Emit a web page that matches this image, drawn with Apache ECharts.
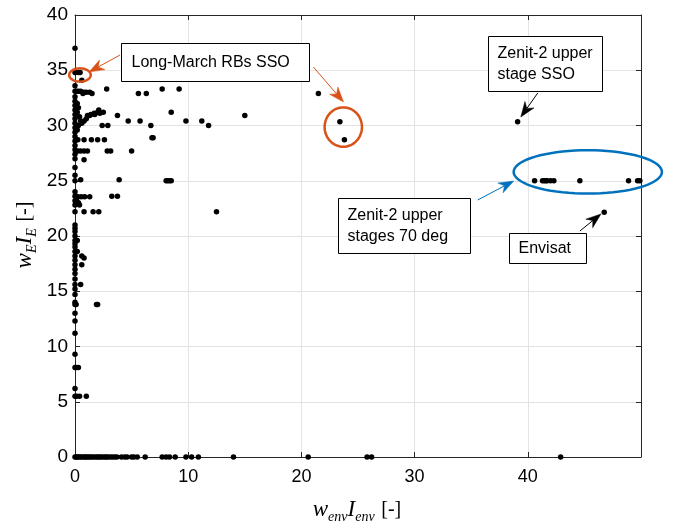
<!DOCTYPE html>
<html><head><meta charset="utf-8">
<script src="https://cdn.jsdelivr.net/npm/echarts@6/dist/echarts.min.js"></script>
<style>html,body{margin:0;padding:0;background:#fff}#c{width:673px;height:524px}</style>
</head><body><div id="c"></div>
<script>
// ---- data ----
const xTicks = [0, 10, 20, 30, 40];
const yTicks = [0, 5, 10, 15, 20, 25, 30, 35, 40];
// objects lying on the x = 0 axis (their y values)
const axisZeroY = [37.0, 34.8, 33.6, 33.1, 32.6, 32.2, 31.8, 31.4, 31.0, 30.6, 30.2, 29.8, 29.4, 29.0, 28.6, 28.2, 27.8, 27.4, 27.0, 26.2, 25.5, 25.0, 24.0, 23.6, 23.2, 22.8, 22.2, 21.0, 20.7, 20.4, 20.0, 19.6, 19.3, 19.0, 18.6, 18.2, 17.8, 17.4, 17.0, 16.6, 16.1, 15.6, 15.2, 14.7, 14.0, 13.8, 13.0, 12.3, 11.2, 9.3, 8.1, 6.2, 5.5, 0];
// objects lying on the y = 0 axis (their x values)
const zeroLineX = [0.1, 0.2, 0.3, 0.45, 0.6, 0.75, 0.9, 1.0, 1.15, 1.3, 1.45, 1.6, 1.8, 1.95, 2.1, 2.25, 2.4, 2.6, 2.75, 2.9, 3.1, 3.3, 3.5, 3.7, 4.1, 4.4, 4.6, 5.0, 5.2, 5.5, 6.2, 7.7, 8.05, 8.35, 8.85, 9.8, 10.3, 10.9, 14.0, 20.6, 25.8, 26.2, 42.9];
// objects close to the vertical axis
const nearAxis = [[0.3,34.8],[0.45,34.8],[0.6,34.1],
  [0.15,33.1],[0.3,33.1],[0.5,33.1],[0.8,33.0],[1.0,33.0],[1.3,33.0],[1.5,32.9],[0.7,32.9],
  [0.2,32.0],[0.3,31.6],[0.2,31.2],[0.4,30.8],[0.5,30.4],[0.3,30.0],[0.6,30.2],[0.8,30.4],[0.2,29.6],
  [1.0,30.6],[1.3,30.9],[1.75,31.0],[2.2,31.1],[2.5,31.2],[1.1,30.9],[1.4,31.0],[1.7,31.1],[2.0,31.2],[2.1,31.4],
  [2.4,30.0],[2.9,30.0],
  [0.25,28.7],[0.8,28.7],[1.45,28.7],[2.0,28.7],[2.6,28.7],
  [0.25,27.7],[0.5,27.7],[0.8,27.7],[1.1,27.7],[2.85,27.7],[3.15,27.7],
  [0.8,26.9],[0.5,25.1],
  [0.1,23.6],[0.25,23.55],[0.55,23.55],[0.85,23.55],[1.3,23.55],[0.15,23.2],[0.3,23.0],[0.4,22.8],
  [0.8,22.2],[1.6,22.2],[2.1,22.2],
  [0.2,19.6],[0.2,18.6],[0.6,18.2],[0.8,18.0],[0.6,17.4],[0.5,15.6],[0.1,13.8],
  [0.15,8.1],[0.3,8.1],[0.15,5.5],[0.4,5.5],[1.0,5.5]];
// other scattered objects
const scattered = [[2.8,33.3],[5.6,32.9],[6.3,32.9],[7.7,33.3],[9.2,33.3],
  [3.75,30.9],[4.7,30.4],[5.75,30.4],[6.7,30.0],[8.5,31.2],[9.8,30.4],[11.2,30.4],[11.8,30.0],
  [6.8,28.9],[6.9,28.9],[5.0,27.7],
  [3.9,25.1],[8.05,25.0],[8.2,25.0],[8.35,25.0],[8.5,25.0],
  [3.25,23.6],[3.75,23.6],[12.5,22.2],[1.9,13.8],[2.0,13.8],
  [15.0,30.9],[21.5,32.9]];
const longMarch = [[23.4,30.35],[23.8,28.7]];
const zenitSSO = [[39.1,30.35]];
const zenit70X = [40.6, 41.3, 41.45, 41.6, 41.7, 42.0, 42.3, 44.6, 48.9, 49.7, 49.9];
const zenit70Y = 25.0;
const envisat = [[46.75,22.15]];

// ---- chart ----
const chart = echarts.init(document.getElementById('c'), null, {renderer: 'canvas'});
const axisCol = '#262626';
const font = 'Liberation Sans, Arial, Helvetica, sans-serif';
const allPts = []
  .concat(axisZeroY.map(y => [0, y]))
  .concat(zeroLineX.map(x => [x, 0]))
  .concat(nearAxis, scattered, longMarch, zenitSSO, envisat)
  .concat(zenit70X.map(x => [x, zenit70Y]));

const baseAxis = {
  type: 'value',
  axisLine: {show: true, onZero: false, lineStyle: {color: axisCol, width: 1}},
  axisTick: {show: true, inside: true, length: 5, lineStyle: {color: axisCol}},
};
chart.setOption({
  animation: false,
  backgroundColor: '#fff',
  grid: {left: 75, right: 32, top: 15, bottom: 67, containLabel: false},
  xAxis: [
    Object.assign({}, baseAxis, {position: 'bottom', min: xTicks[0], max: 50, interval: 10,
      axisLabel: {fontSize: 18, color: '#000', fontFamily: font, margin: 11, showMaxLabel: false},
      splitLine: {show: true, lineStyle: {color: '#e3e3e3', width: 1}}}),
    Object.assign({}, baseAxis, {position: 'top', min: xTicks[0], max: 50, interval: 10,
      axisLabel: {show: false}, splitLine: {show: false}})
  ],
  yAxis: [
    Object.assign({}, baseAxis, {position: 'left', min: yTicks[0], max: 40, interval: 5,
      axisLabel: {fontSize: 19, color: '#000', fontFamily: font, margin: 7},
      splitLine: {show: true, lineStyle: {color: '#e3e3e3', width: 1}}}),
    Object.assign({}, baseAxis, {position: 'right', min: yTicks[0], max: 40, interval: 5,
      axisLabel: {show: false}, splitLine: {show: false}})
  ],
  series: [{
    type: 'scatter', xAxisIndex: 0, yAxisIndex: 0, data: allPts,
    symbol: 'circle', symbolSize: 5.5, clip: false,
    itemStyle: {color: '#000', opacity: 1}
  }]
});

// ---- annotations (defined in data units) ----
const P = pt => chart.convertToPixel({xAxisIndex: 0, yAxisIndex: 0}, pt);
const ORANGE = '#D95319', BLUE = '#0072BD';
function ellipse(c, rx, ry, color) {
  const cp = P(c), ex = P([c[0] + rx, c[1]]), ey = P([c[0], c[1] + ry]);
  const prx = ex[0] - cp[0], pry = cp[1] - ey[1];
  const pts = [];
  for (let i = 0; i < 72; i++) {
    const a = i / 72 * Math.PI * 2;
    pts.push([cp[0] + prx * Math.cos(a), cp[1] + pry * Math.sin(a)]);
  }
  return {type: 'polygon', shape: {points: pts}, style: {fill: 'none', stroke: color, lineWidth: 2.5}, z: 100};
}
function arrow(from, to, color, lw, hl, hw) {
  const a = P(from), b = P(to);
  const dx = b[0] - a[0], dy = b[1] - a[1], L = Math.hypot(dx, dy);
  const ux = dx / L, uy = dy / L, nx = -uy, ny = ux;
  const base = [b[0] - ux * hl, b[1] - uy * hl];
  const notch = [b[0] - ux * hl * 0.7, b[1] - uy * hl * 0.7];
  return [
    {type: 'line', shape: {x1: a[0], y1: a[1], x2: notch[0], y2: notch[1]}, style: {stroke: color, lineWidth: lw}, z: 100},
    {type: 'polygon', shape: {points: [b, [base[0] + nx * hw / 2, base[1] + ny * hw / 2], notch, [base[0] - nx * hw / 2, base[1] - ny * hw / 2]]},
      style: {fill: color, stroke: color, lineWidth: 0.5}, z: 100}
  ];
}
function box(tl, br, lines, padX, lineH) {
  const a = P(tl), b = P(br);
  const x = Math.round(a[0]) + 0.5, y = Math.round(a[1]) + 0.5;
  const w = Math.round(b[0] - a[0]), h = Math.round(b[1] - a[1]);
  const els = [{type: 'rect', shape: {x: x, y: y, width: w, height: h}, style: {fill: '#fff', stroke: '#000', lineWidth: 1}, z: 90}];
  const cy = y + h / 2;
  lines.forEach((t, i) => {
    els.push({type: 'text', x: x + padX, y: cy + (i - (lines.length - 1) / 2) * lineH, z: 95,
      style: {text: t, font: '16px ' + font, fill: '#000', textAlign: 'left', textVerticalAlign: 'middle'}});
  });
  return els;
}
const sub = {fontSize: 14, lineHeight: 14, verticalAlign: 'bottom', fontFamily: 'Liberation Serif, serif', fontStyle: 'italic', fill: '#000'};
const mainT = {fontSize: 23, lineHeight: 28, fontFamily: 'Liberation Serif, serif', fontStyle: 'italic', fill: '#000'};
const brk = {fontSize: 20, lineHeight: 28, fontFamily: 'Liberation Serif, serif', fill: '#000'};

const g = [];
g.push(ellipse([0.44, 34.57], 0.95, 0.6, ORANGE));
g.push(ellipse([23.7, 29.86], 1.65, 1.78, ORANGE));
g.push(ellipse([45.3, 25.8], 6.55, 1.96, BLUE));
g.push(...arrow([3.98, 36.38], [1.24, 34.84], ORANGE, 1, 15, 11));
g.push(...arrow([21.06, 35.29], [23.72, 32.13], ORANGE, 1, 15, 11));
g.push(...arrow([40.88, 32.94], [39.38, 30.77], '#000', 1, 15, 11));
g.push(...arrow([35.58, 23.26], [38.76, 24.98], BLUE, 1, 15, 11));
g.push(...arrow([44.6, 20.45], [46.46, 21.99], '#000', 1, 15, 11));
g.push(...box([4.07, 37.47], [20.71, 34.02], ['Long-March RBs SSO'], 10, 21));
g.push(...box([36.46, 38.1], [46.55, 33.12], ['Zenit-2 upper', 'stage SSO'], 9, 21));
g.push(...box([23.27, 23.44], [34.96, 18.46], ['Zenit-2 upper', 'stages 70 deg'], 9, 21));
g.push(...box([38.32, 20.27], [45.13, 17.56], ['Envisat'], 9, 21));
// axis titles
g.push({type: 'text', x: 357, y: 510, z: 100,
  style: {text: '{m|w}{s|env}{m|I}{s|env}  {b|[-]}', rich: {m: mainT, s: sub, b: brk}, textAlign: 'center', textVerticalAlign: 'middle'}});
g.push({type: 'text', x: 25, y: 235, rotation: Math.PI / 2, z: 100,
  style: {text: '{m|w}{s|E}{m|I}{s|E}  {b|[-]}', rich: {m: mainT, s: sub, b: brk}, textAlign: 'center', textVerticalAlign: 'middle'}});
chart.setOption({graphic: {elements: g}});
</script></body></html>
